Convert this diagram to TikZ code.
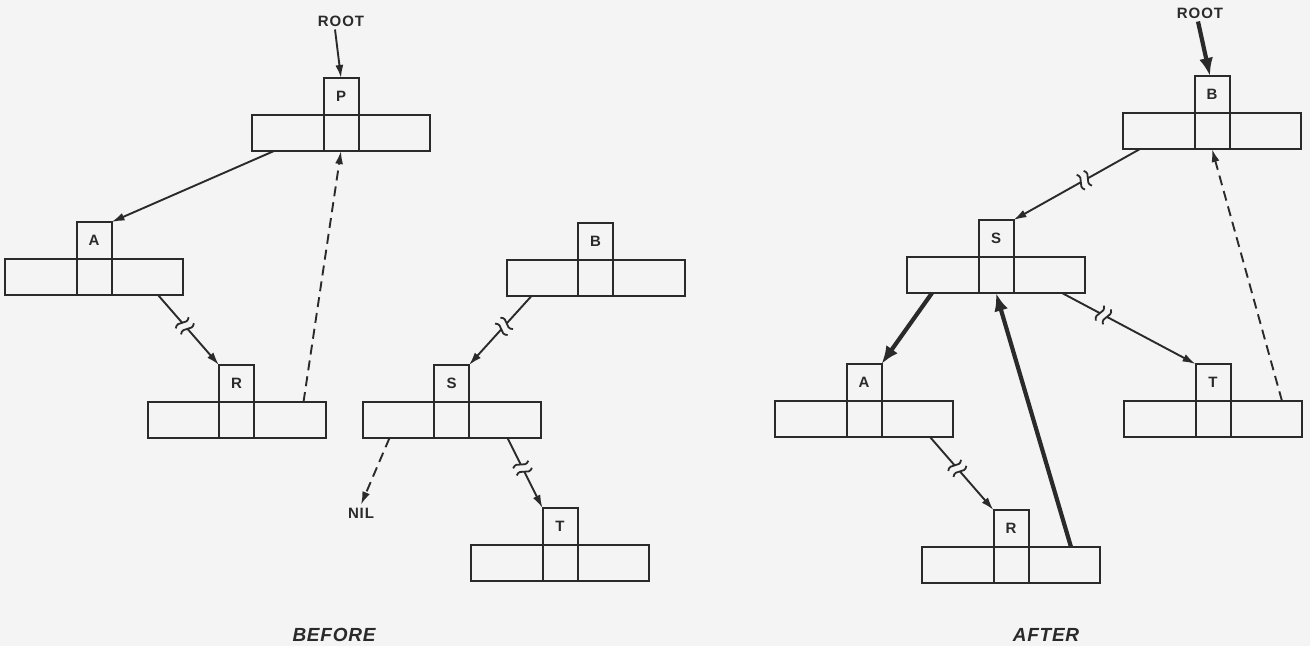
\documentclass[tikz,border=0pt]{standalone}
\usepackage{fontspec}
\newfontfamily\lblfont{Liberation Sans}[LetterSpace=6]
\newfontfamily\capfont{Liberation Sans}[LetterSpace=4]
\usetikzlibrary{arrows.meta,calc,decorations.markings}
\definecolor{bg}{HTML}{F4F4F4}
\definecolor{ink}{HTML}{2A2A2A}
\tikzset{
  bar/.style={draw=ink, line width=2pt, minimum width=178pt, minimum height=36pt, inner sep=0pt, outer sep=0pt},
  tag/.style={draw=ink, line width=2pt, minimum width=35pt, minimum height=37pt, inner sep=0pt, outer sep=0pt,
    font=\lblfont\bfseries\fontsize{15}{15}\selectfont, text=ink},
  lbl/.style={font=\lblfont\bfseries\fontsize{15}{15}\selectfont, text=ink, inner sep=3pt},
  captxt/.style={font=\capfont\bfseries\itshape\fontsize{19}{19}\selectfont, text=ink, inner sep=0pt},
  link/.style={draw=ink, line width=1.9pt, -{Latex[length=13pt,width=8pt]}},
  dlink/.style={link, dash pattern=on 10pt off 6pt},
  heavy/.style={draw=ink, line width=4.2pt, -{Latex[length=18pt,width=14pt]}},
  brk/.style={postaction={decorate, decoration={markings, mark=at position #1 with {
    \fill[bg] (-4pt,-6pt) rectangle (4pt,6pt);
    \draw[ink, line width=1.8pt, -] (-4pt,-8.5pt) .. controls (-10pt,-2pt) and (2pt,2pt) .. (-4pt,8.5pt);
    \draw[ink, line width=1.8pt, -] (4pt,-8.5pt) .. controls (-2pt,-2pt) and (10pt,2pt) .. (4pt,8.5pt);
  }}}},
}
\newcommand\recnode[4]{%
  \node[bar, anchor=north] (#1bar) at (#2,#3) {};
  \node[tag, anchor=south] (#1) at (#1bar.north) {#4};
  \draw[ink, line width=2pt] ([xshift=-17.5pt]#1bar.north) -- ([xshift=-17.5pt]#1bar.south)
    ([xshift=17.5pt]#1bar.north) -- ([xshift=17.5pt]#1bar.south);
}
\begin{document}
\begin{tikzpicture}[x=1pt,y=-1pt]
  \fill[bg] (0,0) rectangle (1310,646);
  \useasboundingbox (0,0) rectangle (1310,646);
  % BEFORE
  \recnode{P}{341}{115}{P}
  \recnode{A}{94}{259}{A}
  \recnode{R}{236.5}{402}{R}
  \recnode{B}{595.5}{260}{B}
  \recnode{S}{451.5}{402}{S}
  \recnode{T}{560}{545}{T}
  \node[lbl] (ROOT) at (341,21) {ROOT};
  \node[lbl] (NIL) at (361,513) {NIL};
  \node[captxt] (before) at (334,635) {BEFORE};
  \draw[link] ([xshift=-6pt]ROOT.south) -- (P.north);
  \draw[link] ($(Pbar.south west)+(22,0)$) -- (A.north east);
  \draw[link,brk=0.44] ($(Abar.south east)+(-25,0)$) -- (R.north west);
  \draw[dlink] ($(Rbar.north east)+(-22,0)$) -- (Pbar.south);
  \draw[link,brk=0.44] ($(Bbar.south west)+(25,0)$) -- (S.north east);
  \draw[dlink] ($(Sbar.south west)+(27,0)$) -- (NIL.north);
  \draw[link,brk=0.43] ($(Sbar.south east)+(-33,0)$) -- (T.north west);
  % AFTER
  \recnode{B2}{1212}{113}{B}
  \recnode{S2}{996}{257}{S}
  \recnode{A2}{864}{401}{A}
  \recnode{R2}{1011}{547}{R}
  \recnode{T2}{1213}{401}{T}
  \node[lbl] (ROOT2) at (1200,13) {ROOT};
  \node[captxt] (after) at (1046,635) {AFTER};
  \draw[heavy] ([xshift=-2pt]ROOT2.south) -- ([xshift=-2pt]B2.north);
  \draw[link,brk=0.44] ($(B2bar.south west)+(17,0)$) -- (S2.north east);
  \draw[dlink] ($(T2bar.north east)+(-20,0)$) -- (B2bar.south);
  \draw[heavy] ($(S2bar.south west)+(25,0)$) -- (A2.north east);
  \draw[heavy] ($(R2bar.north east)+(-29,0)$) -- (S2bar.south);
  \draw[link,brk=0.31] ($(S2bar.south east)+(-23,0)$) -- (T2.north west);
  \draw[link,brk=0.43] ($(A2bar.south east)+(-23,0)$) -- (R2.north west);
\end{tikzpicture}
\end{document}
